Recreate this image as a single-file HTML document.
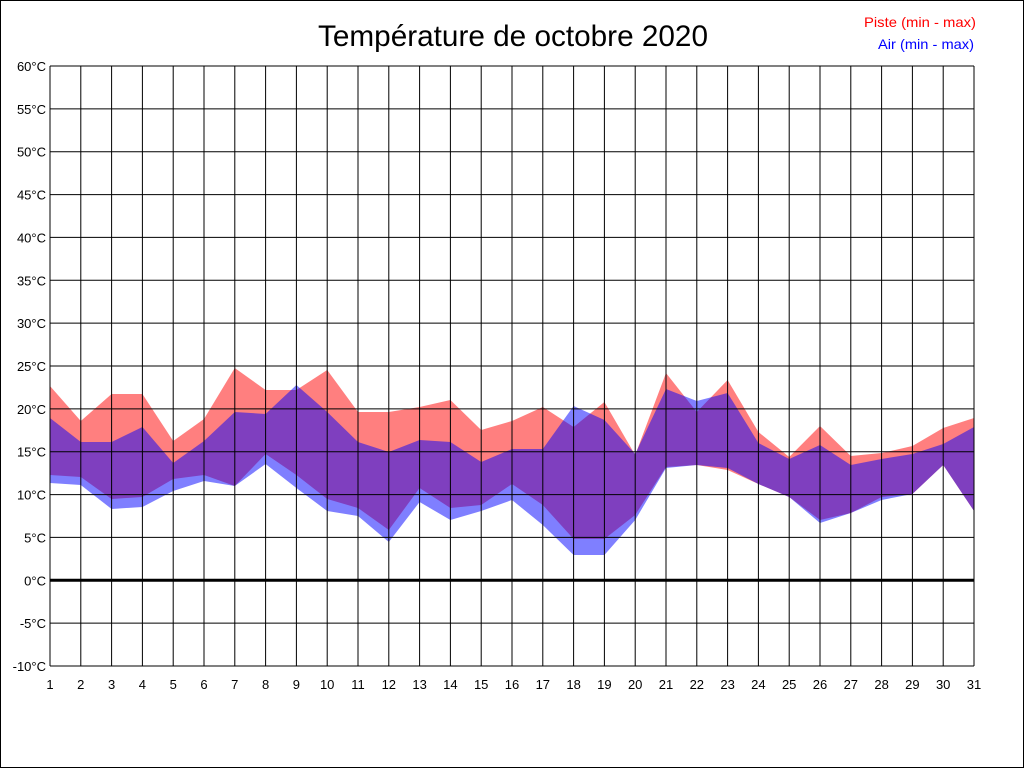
<!DOCTYPE html>
<html><head><meta charset="utf-8"><style>
html,body{margin:0;padding:0;background:#fff}
svg{display:block}
text{font-family:"Liberation Sans Narrow","Liberation Sans",sans-serif}
</style></head><body>
<svg id="s" width="1024" height="768" viewBox="0 0 1024 768" xmlns="http://www.w3.org/2000/svg">
<rect x="0.5" y="0.5" width="1023" height="767" fill="#fff" stroke="#000"/>
<text x="513" y="46" font-size="30" text-anchor="middle" textLength="390" lengthAdjust="spacingAndGlyphs" style="font-family:'Liberation Sans',sans-serif">Température de octobre 2020</text>
<text x="976" y="27" font-size="14" fill="#ff0000" text-anchor="end" textLength="112" lengthAdjust="spacingAndGlyphs">Piste (min - max)</text>
<text x="974" y="49" font-size="14" fill="#0000ff" text-anchor="end" textLength="96" lengthAdjust="spacingAndGlyphs">Air (min - max)</text>
<g id="g"></g>
</svg>
<script>
var g=document.getElementById('g');var NS='http://www.w3.org/2000/svg';
function X(d){return 50+30.8*(d-1);}
var rmax=[386,421,394,394,441,419,368,390,390,370,412,412,407,400,430,421,407,427,402,455,373,412,380,432,457,426,456,453,446,428,418];
var rmin=[475,477,499,497,479,475,486,454,475,499,508,530,488,508,505,484,505,539,539,515,467,465,470,484,497,520,513,497,494,465,511];
var bmax=[418,442,442,427,463,441,412,414,385,412,442,452,440,442,462,449,449,406,420,454,389,401,393,443,459,445,465,459,454,444,427];
var bmin=[483,485,509,507,491,481,486,464,488,511,516,542,502,520,511,500,525,555,555,520,468,465,468,484,497,523,513,500,494,465,511];
var h='';
function poly(a,b,c){var p=[];for(var i=0;i<31;i++)p.push(X(i+1)+','+a[i]);for(var i=30;i>=0;i--)p.push(X(i+1)+','+b[i]);return '<polygon points="'+p.join(' ')+'" fill="'+c+'"/>';}
h+=poly(rmax,rmin,'rgba(255,0,0,0.5)');
h+=poly(bmax,bmin,'rgba(0,0,255,0.5)');
for(var t=60;t>=-10;t-=5){var y=66+(60-t)*600/70;
h+='<line x1="50" x2="974" y1="'+y+'" y2="'+y+'" stroke="#000" stroke-width="'+(t==0?3:1)+'"/>';
h+='<text x="46" y="'+(y+5)+'" font-size="13" text-anchor="end">'+t+'°C</text>';}
for(var d=1;d<=31;d++){var x=X(d);h+='<line x1="'+x+'" x2="'+x+'" y1="66" y2="666" stroke="#000" stroke-width="1"/>';
h+='<text x="'+x+'" y="689" font-size="13" text-anchor="middle">'+d+'</text>';}
g.innerHTML=h;
</script>
</body></html>
